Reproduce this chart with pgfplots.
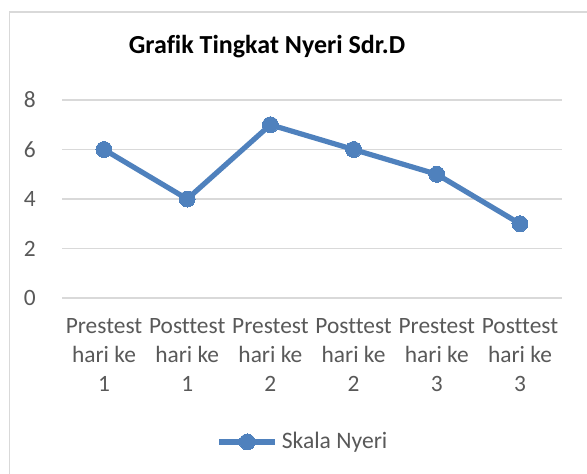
\documentclass[border=0pt]{standalone}
\usepackage{pgfplots}
\pgfplotsset{compat=1.18}
\usepackage{fontspec}
\setmainfont[Ligatures={NoCommon}]{Carlito}
\definecolor{linec}{HTML}{4F81BD}
\definecolor{gridc}{HTML}{D9D9D9}
\definecolor{txt}{HTML}{595959}
\begin{document}
\begin{tikzpicture}
\useasboundingbox (0,0) rectangle (293.5pt,236.5pt);
\clip (0,0) rectangle (293.5pt,236.5pt);
\fill[white] (0,0) rectangle (293.5pt,236.5pt);
\draw[gridc, line width=0.8pt] (4.75pt,-10pt) rectangle (300pt,230.5pt);
\node[anchor=base, font=\fontsize{13}{15}\selectfont\bfseries, text=black] at (133.5pt,210pt) {Grafik Tingkat Nyeri Sdr.D};
\begin{axis}[
  at={(31.2pt,87.5pt)}, anchor=south west,
  scale only axis, width=249.6pt, height=99pt,
  xmin=-0.5, xmax=5.5, ymin=0, ymax=8,
  ytick={0,2,4,6,8},
  xtick={0,1,2,3,4,5},
  xticklabels={{Prestest\\hari ke\\1},{Posttest\\hari ke\\1},{Prestest\\hari ke\\2},{Posttest\\hari ke\\2},{Prestest\\hari ke\\3},{Posttest\\hari ke\\3}},
  xticklabel style={align=center, font=\fontsize{11.7}{14.5}\selectfont, text=txt, yshift=-6.5pt},
  yticklabel style={font=\fontsize{11.7}{14.5}\selectfont, text=txt, xshift=-9.8pt},
  /pgf/number format/assume math mode=true,
  major tick length=0pt,
  axis x line*=bottom, axis y line*=left,
  x axis line style={gridc, line width=0.8pt, -},
  y axis line style={draw=none},
  ymajorgrids, grid style={gridc, line width=0.8pt},
  legend style={at={(axis description cs:0.484,-0.727)}, anchor=center, draw=none, fill=none, font=\fontsize{11.8}{14}\selectfont, text=txt, inner sep=0pt},
  legend cell align=left,
  legend image code/.code={\draw[#1, mark repeat=2, mark phase=2] plot coordinates {(0pt,0pt) (14pt,0pt) (28pt,0pt)};},
  clip=false,
]
\addplot[linec, line width=2.6pt, mark=*, mark size=4pt, mark options={fill=linec, draw=linec, line width=0pt}] coordinates {(0,6) (1,4) (2,7) (3,6) (4,5) (5,3)};
\addlegendentry{Skala Nyeri}
\end{axis}
\end{tikzpicture}
\end{document}
